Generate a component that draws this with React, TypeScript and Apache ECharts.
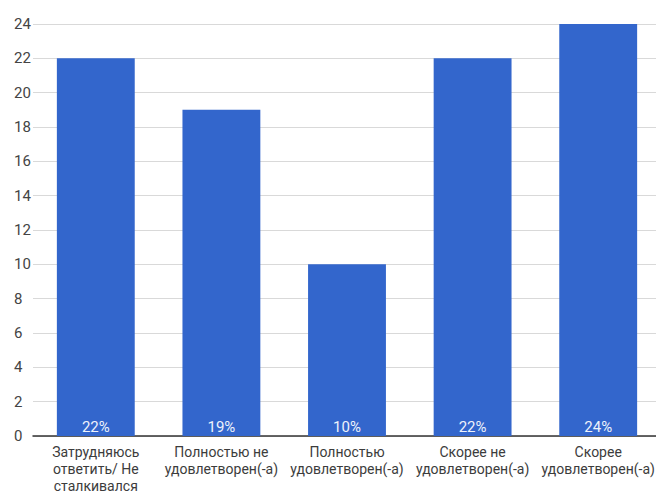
import React, { useEffect, useRef } from "react";
import * as echarts from "echarts";

const categories = [
  "Затрудняюсь\nответить/ Не\nсталкивался",
  "Полностью не\nудовлетворен(-а)",
  "Полностью\nудовлетворен(-а)",
  "Скорее не\nудовлетворен(-а)",
  "Скорее\nудовлетворен(-а)",
];
const values = [22, 19, 10, 22, 24];
const percentLabels = ["22%", "19%", "10%", "22%", "24%"];

export default function App() {
  const ref = useRef<HTMLDivElement>(null);
  useEffect(() => {
    if (!ref.current) return;
    const chart = echarts.init(ref.current, undefined, { renderer: "svg" });
    chart.setOption({
      animation: false,
      grid: {
        left: 33,
        right: -5,
        top: 24,
        bottom: 57,
        containLabel: false,
        outerBoundsMode: "none",
      },
      xAxis: {
        type: "category",
        data: categories,
        axisLine: { lineStyle: { color: "#333", width: 1.5 } },
        axisTick: { show: false },
        axisLabel: {
          interval: 0,
          color: "#3c3c3c",
          fontFamily: "Roboto",
          fontSize: 14,
          lineHeight: 17,
          margin: 7,
        },
      },
      yAxis: {
        type: "value",
        min: 0,
        max: 24,
        interval: 2,
        axisLine: { show: false },
        axisTick: { show: false },
        splitLine: { lineStyle: { color: "#d9d9d9", width: 1 } },
        axisLabel: {
          align: "left",
          margin: 19,
          color: "#444",
          fontFamily: "Roboto",
          fontSize: 15,
        },
      },
      series: [
        {
          type: "bar",
          data: values,
          barWidth: "62%",
          itemStyle: { color: "#3366cc" },
          label: {
            show: true,
            position: "insideBottom",
            distance: 2,
            color: "#eef2fb",
            fontFamily: "Roboto",
            fontSize: 15,
            formatter: (p: any) => percentLabels[p.dataIndex],
          },
        },
      ],
    });
    return () => chart.dispose();
  }, []);
  return (
    <div
      ref={ref}
      style={{ position: "fixed", left: 0, top: 0, width: 656, height: 493, background: "#fff" }}
    />
  );
}
